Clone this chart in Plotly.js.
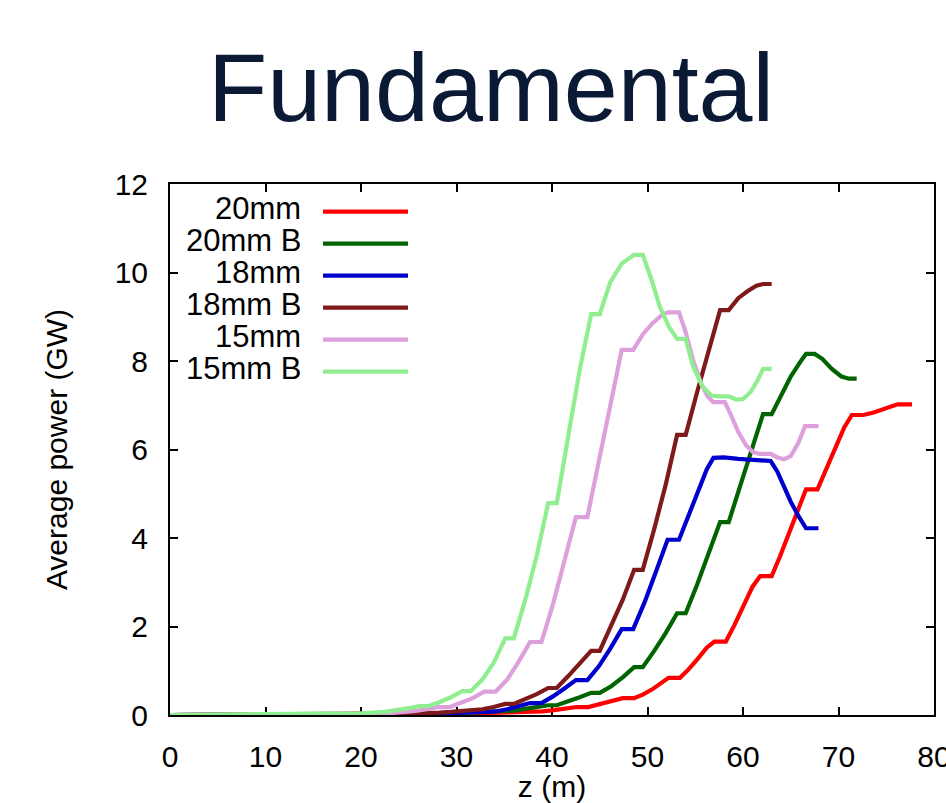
<!DOCTYPE html>
<html>
<head>
<meta charset="utf-8">
<script src="https://cdn.plot.ly/plotly-3.0.1.min.js"></script>
<style>
html,body{margin:0;padding:0;background:#fff;}
#chart{width:946px;height:803px;}
</style>
</head>
<body>
<div id="chart"></div>
<script>
// Series names (legend order)
const seriesNames = ["20mm", "20mm B", "18mm", "18mm B", "15mm", "15mm B"];
const seriesColors = ["#ff0000", "#006400", "#0000cd", "#7f1a1a", "#dda0dd", "#90ee90"];

// 20mm
const z20 = [0, 5, 10, 15, 20, 25, 30, 33, 35, 37.8, 39.0, 40.2, 41.4, 42.6, 43.8, 45.0, 46.2, 47.4, 48.6, 49.5, 50.5, 51.4, 52.2, 53.4, 54.3, 55.3, 56.2, 57.0, 58.2, 59.1, 60.1, 61.0, 61.8, 63.0, 63.9, 64.9, 65.8, 66.6, 67.8, 68.7, 69.7, 70.6, 71.4, 72.6, 73.6, 74.6, 75.5, 76.2, 77.7];
const p20 = [0, 0.002, 0.004, 0.007, 0.012, 0.02, 0.035, 0.045, 0.055, 0.08, 0.08, 0.11, 0.145, 0.18, 0.18, 0.24, 0.31, 0.38, 0.38, 0.46, 0.58, 0.72, 0.84, 0.84, 1.03, 1.28, 1.52, 1.66, 1.66, 2.03, 2.48, 2.9, 3.14, 3.14, 3.6, 4.15, 4.68, 5.1, 5.1, 5.55, 6.05, 6.5, 6.78, 6.78, 6.83, 6.9, 6.97, 7.02, 7.02];

// 20mm B
const z20B = [0, 5, 10, 15, 20, 25, 30, 33, 35.1, 36.0, 37.2, 38.4, 39.6, 40.5, 41.7, 42.9, 44.1, 45.0, 46.2, 47.4, 48.6, 49.5, 50.7, 51.9, 53.1, 54.0, 55.2, 56.4, 57.6, 58.5, 59.7, 60.9, 62.1, 63.0, 64.0, 65.0, 66.0, 66.6, 67.5, 68.3, 69.3, 70.3, 71.1, 71.9];
const p20B = [0, 0.002, 0.004, 0.006, 0.01, 0.02, 0.04, 0.07, 0.1, 0.1, 0.14, 0.18, 0.22, 0.22, 0.3, 0.4, 0.5, 0.5, 0.65, 0.85, 1.08, 1.08, 1.45, 1.85, 2.3, 2.3, 2.95, 3.65, 4.36, 4.36, 5.15, 5.95, 6.8, 6.8, 7.25, 7.65, 7.98, 8.16, 8.16, 8.05, 7.82, 7.65, 7.6, 7.6];

// 18mm
const z18 = [0, 5, 10, 15, 20, 25, 30, 32.9, 34.1, 35.3, 36.5, 37.7, 38.9, 40.1, 41.3, 42.5, 43.7, 44.9, 46.1, 47.3, 48.5, 49.7, 50.9, 52.1, 53.3, 54.3, 55.3, 56.2, 56.9, 58.0, 59.5, 61.0, 62.9, 63.6, 64.3, 65.0, 65.8, 66.6, 67.9];
const p18 = [0, 0.002, 0.004, 0.007, 0.012, 0.025, 0.05, 0.08, 0.08, 0.13, 0.2, 0.27, 0.27, 0.42, 0.6, 0.79, 0.79, 1.1, 1.5, 1.94, 1.94, 2.55, 3.25, 3.96, 3.96, 4.5, 5.05, 5.55, 5.81, 5.82, 5.79, 5.76, 5.74, 5.5, 5.15, 4.82, 4.5, 4.22, 4.22];

// 18mm B
const z18B = [0, 5, 10, 15, 20, 25, 26.1, 27.0, 28.2, 29.4, 30.6, 31.5, 32.7, 33.9, 35.1, 36.0, 37.2, 38.4, 39.6, 40.5, 41.7, 42.9, 44.1, 45.0, 46.2, 47.4, 48.6, 49.5, 50.7, 51.9, 53.1, 54.0, 55.2, 56.4, 57.6, 58.5, 59.5, 60.5, 61.4, 62.1, 63.0];
const p18B = [0, 0.003, 0.006, 0.01, 0.018, 0.035, 0.04, 0.04, 0.055, 0.07, 0.09, 0.09, 0.13, 0.18, 0.25, 0.25, 0.35, 0.47, 0.61, 0.61, 0.88, 1.15, 1.45, 1.45, 2.0, 2.6, 3.28, 3.28, 4.2, 5.2, 6.33, 6.33, 7.3, 8.25, 9.15, 9.15, 9.42, 9.58, 9.7, 9.74, 9.74];

// 15mm
const z15 = [0, 5, 10, 15, 20, 23.3, 24.5, 25.7, 26.9, 28.1, 29.3, 30.5, 31.7, 32.9, 34.1, 35.3, 36.5, 37.7, 38.9, 40.1, 41.3, 42.5, 43.7, 44.9, 46.1, 47.3, 48.5, 49.5, 50.5, 51.4, 52.1, 53.3, 54.0, 54.8, 55.6, 56.3, 56.9, 58.1, 58.8, 59.5, 60.3, 61.0, 61.7, 62.9, 63.6, 64.3, 65.0, 65.8, 66.5, 67.9];
const p15 = [0, 0.003, 0.007, 0.012, 0.025, 0.05, 0.06, 0.09, 0.13, 0.18, 0.18, 0.27, 0.38, 0.53, 0.53, 0.8, 1.2, 1.65, 1.65, 2.5, 3.45, 4.47, 4.47, 5.75, 7.0, 8.25, 8.25, 8.6, 8.85, 9.02, 9.1, 9.1, 8.65, 8.0, 7.5, 7.2, 7.07, 7.07, 6.75, 6.4, 6.1, 5.95, 5.9, 5.9, 5.82, 5.78, 5.85, 6.15, 6.53, 6.53];

// 15mm B
const z15B = [0, 5, 10, 15, 20, 22.5, 24, 25.2, 26.1, 27.0, 28.2, 29.4, 30.6, 31.5, 32.7, 33.9, 35.1, 36.0, 37.2, 38.4, 39.6, 40.5, 41.7, 42.9, 44.1, 45.0, 46.1, 47.3, 48.6, 49.5, 50.4, 51.3, 52.3, 53.1, 54.0, 54.8, 55.8, 56.7, 57.6, 58.5, 59.3, 60.0, 60.8, 61.5, 62.1, 63.0];
const p15B = [0, 0.005, 0.01, 0.02, 0.04, 0.07, 0.11, 0.16, 0.2, 0.2, 0.29, 0.4, 0.54, 0.54, 0.8, 1.18, 1.73, 1.73, 2.6, 3.6, 4.79, 4.79, 6.3, 7.8, 9.06, 9.06, 9.78, 10.2, 10.4, 10.4, 9.85, 9.22, 8.75, 8.5, 8.5, 7.86, 7.41, 7.22, 7.2, 7.2, 7.13, 7.14, 7.3, 7.55, 7.82, 7.82];

// Axis ticks
const xTicks = [0, 10, 20, 30, 40, 50, 60, 70, 80];
const yTicks = [0, 2, 4, 6, 8, 10, 12];

const zs = [z20, z20B, z18, z18B, z15, z15B];
const ps = [p20, p20B, p18, p18B, p15, p15B];

const FONT = "Liberation Sans, Arial, sans-serif";

const traces = seriesNames.map((n, i) => ({
  x: zs[i], y: ps[i], name: n, type: "scatter", mode: "lines",
  line: {color: seriesColors[i], width: 4.2}, showlegend: false
}));

// Custom legend: text on the left, line sample on the right (paper coordinates)
const legX0 = 0.2003, legX1 = 0.3115, legTextX = 0.174;
const legTop = 0.954, legStep = 0.0603;
const annotations = seriesNames.map((n, i) => ({
  xref: "paper", yref: "paper", x: legTextX, y: legTop - i * legStep,
  xanchor: "right", yanchor: "middle", text: n, showarrow: false,
  font: {family: FONT, size: 31, color: "#000"}
}));
const shapes = seriesNames.map((n, i) => ({
  type: "line", xref: "paper", yref: "paper",
  x0: legX0, x1: legX1, y0: legTop - i * legStep - 0.006, y1: legTop - i * legStep - 0.006,
  line: {color: seriesColors[i], width: 4.2}
}));

const axisCommon = {
  showline: true, linecolor: "#000", linewidth: 2, mirror: "ticks",
  ticks: "inside", ticklen: 8, tickwidth: 2, tickcolor: "#000",
  showgrid: false, zeroline: false, layer: "below traces",
  ticklabeloverflow: "allow",
  tickfont: {family: FONT, size: 30, color: "#000"}
};

const layout = {
  width: 946, height: 803,
  margin: {l: 170, r: 12, t: 184, b: 88, pad: 0},
  paper_bgcolor: "#fff", plot_bgcolor: "#fff",
  title: {
    text: "Fundamental", x: 491 / 946, xanchor: "center",
    y: 1 - 87 / 803, yanchor: "middle", yref: "container",
    font: {family: FONT, size: 97, color: "#0a1a35"}
  },
  xaxis: Object.assign({}, axisCommon, {
    range: [0, 80], tickvals: xTicks, ticktext: xTicks.map(String),
    ticklabelstandoff: 14,
    title: {text: "z (m)", standoff: 33, font: {family: FONT, size: 30, color: "#000"}}
  }),
  yaxis: Object.assign({}, axisCommon, {
    range: [0, 12], tickvals: yTicks, ticktext: yTicks.map(String),
    ticklabelstandoff: 14,
    title: {text: "Average power (GW)", standoff: 38, font: {family: FONT, size: 30, color: "#000"}}
  }),
  annotations: annotations,
  shapes: shapes,
  showlegend: false
};

Plotly.newPlot("chart", traces, layout, {displayModeBar: false, staticPlot: true});
</script>
</body>
</html>
